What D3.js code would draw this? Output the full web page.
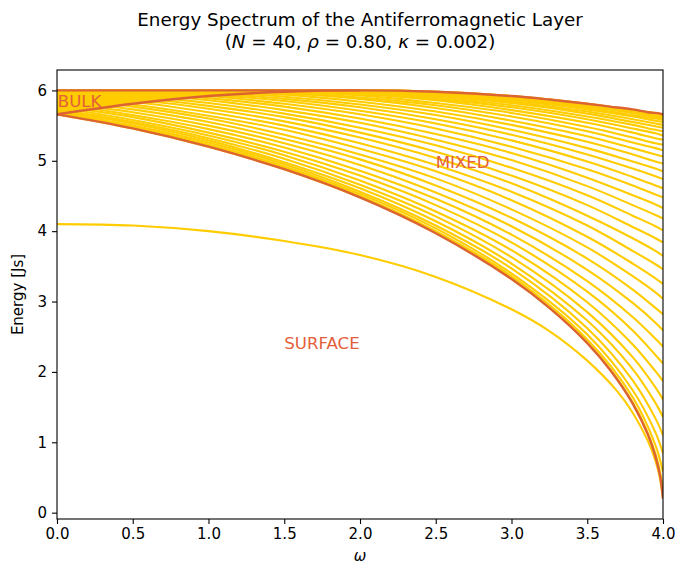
<!DOCTYPE html>
<html>
<head>
<meta charset="utf-8">
<script src="https://cdn.jsdelivr.net/npm/d3@7"></script>
<style>
  body { margin: 0; background: #ffffff; }
  text { font-family: "DejaVu Sans", sans-serif; }
</style>
</head>
<body>
<svg id="chart" width="677" height="566"></svg>
<script>
// ω sampling shared by the 39 bulk layer modes
const omegaGrid = [0, 0.5, 1, 1.5, 2, 2.5, 3, 3.5, 3.8, 3.95, 4];

// Energy of each bulk mode at the ω values above (units of Js)
const bulkModes = [
  [5.66,5.46,5.20,4.88,4.48,3.98,3.33,2.42,1.57,0.84,0.34],
  [5.67,5.47,5.21,4.90,4.50,4.00,3.36,2.46,1.64,0.96,0.58],
  [5.68,5.48,5.23,4.92,4.53,4.04,3.40,2.53,1.74,1.14,0.84],
  [5.69,5.50,5.26,4.95,4.56,4.08,3.47,2.62,1.88,1.34,1.10],
  [5.71,5.53,5.29,4.98,4.61,4.14,3.54,2.73,2.04,1.56,1.36],
  [5.73,5.55,5.32,5.03,4.66,4.21,3.63,2.85,2.21,1.78,1.61],
  [5.76,5.58,5.36,5.08,4.72,4.28,3.73,2.99,2.39,2.01,1.87],
  [5.78,5.62,5.40,5.13,4.79,4.37,3.84,3.14,2.59,2.24,2.12],
  [5.81,5.65,5.45,5.19,4.86,4.46,3.95,3.29,2.78,2.47,2.36],
  [5.83,5.69,5.50,5.25,4.94,4.55,4.07,3.45,2.98,2.70,2.59],
  [5.86,5.73,5.55,5.31,5.02,4.65,4.19,3.61,3.17,2.91,2.82],
  [5.89,5.77,5.60,5.37,5.09,4.75,4.31,3.77,3.36,3.13,3.04],
  [5.91,5.80,5.64,5.44,5.17,4.85,4.44,3.92,3.54,3.33,3.25],
  [5.93,5.84,5.69,5.50,5.25,4.94,4.56,4.08,3.72,3.53,3.46],
  [5.95,5.87,5.74,5.56,5.33,5.04,4.68,4.22,3.90,3.72,3.65],
  [5.97,5.90,5.78,5.62,5.40,5.13,4.79,4.37,4.06,3.90,3.84],
  [5.99,5.93,5.82,5.67,5.47,5.22,4.90,4.51,4.22,4.07,4.01],
  [6.00,5.95,5.86,5.72,5.54,5.30,5.01,4.64,4.37,4.23,4.18],
  [6.00,5.97,5.89,5.77,5.60,5.38,5.11,4.76,4.51,4.38,4.33],
  [6.00,5.98,5.92,5.81,5.66,5.46,5.20,4.88,4.65,4.52,4.48],
  [6.00,5.99,5.94,5.85,5.71,5.53,5.29,4.99,4.77,4.65,4.61],
  [6.00,6.00,5.96,5.88,5.76,5.59,5.37,5.09,4.89,4.78,4.74],
  [5.99,6.00,5.98,5.91,5.80,5.65,5.44,5.18,4.99,4.89,4.85],
  [5.97,6.00,5.99,5.94,5.84,5.70,5.51,5.27,5.09,4.99,4.96],
  [5.95,6.00,6.00,5.96,5.88,5.75,5.57,5.35,5.18,5.09,5.06],
  [5.93,5.99,6.00,5.97,5.90,5.79,5.63,5.42,5.26,5.18,5.15],
  [5.91,5.98,6.00,5.99,5.93,5.82,5.68,5.48,5.33,5.25,5.23],
  [5.89,5.97,6.00,5.99,5.95,5.86,5.72,5.54,5.40,5.32,5.30],
  [5.86,5.95,6.00,6.00,5.96,5.88,5.76,5.59,5.46,5.39,5.36],
  [5.83,5.93,5.99,6.00,5.97,5.90,5.79,5.63,5.51,5.44,5.42],
  [5.81,5.92,5.98,6.00,5.98,5.92,5.82,5.67,5.55,5.49,5.47],
  [5.78,5.90,5.97,6.00,5.99,5.94,5.84,5.70,5.59,5.53,5.51],
  [5.76,5.88,5.96,6.00,6.00,5.95,5.86,5.73,5.63,5.57,5.55],
  [5.73,5.86,5.95,6.00,6.00,5.96,5.88,5.75,5.65,5.60,5.58],
  [5.71,5.85,5.94,5.99,6.00,5.97,5.89,5.77,5.68,5.62,5.60],
  [5.69,5.84,5.94,5.99,6.00,5.97,5.90,5.79,5.70,5.64,5.62],
  [5.68,5.83,5.93,5.99,6.00,5.98,5.91,5.80,5.71,5.66,5.64],
  [5.67,5.82,5.92,5.98,6.00,5.98,5.92,5.81,5.72,5.67,5.65],
  [5.66,5.81,5.92,5.98,6.00,5.98,5.92,5.81,5.72,5.68,5.66]
];

// Surface-localised mode
const surfaceOmega  = [0, 0.5, 1, 1.5, 2, 2.5, 3, 3.25, 3.5, 3.7, 3.8, 3.9, 3.95, 3.98, 4];
const surfaceEnergy = [4.10, 4.08, 4.00, 3.86, 3.66, 3.35, 2.89, 2.58, 2.16, 1.72, 1.42, 1.02, 0.74, 0.49, 0.20];

// Edges of the bulk continuum
const edgeOmega = [0, 0.5, 1, 1.5, 2, 2.5, 3, 3.25, 3.5, 3.65, 3.8, 3.9, 3.95, 3.98, 4];
const lowerEdge = [5.66, 5.46, 5.20, 4.88, 4.48, 3.97, 3.32, 2.91, 2.41, 2.03, 1.55, 1.11, 0.80, 0.53, 0.20];
const upperEdge = [5.66, 5.81, 5.92, 5.98, 6.00, 5.98, 5.92, 5.87, 5.81, 5.77, 5.73, 5.69, 5.68, 5.67, 5.66];
const flatEdgeOmega = [0, 2];
const flatEdge = [6.00, 6.00];

// Region annotations (text, ω, energy)
const regionNames  = ["BULK", "MIXED", "SURFACE"];
const regionOmega  = [0.005, 2.5, 1.5];
const regionEnergy = [5.76, 4.9, 2.33];

const xTicks = [0, 0.5, 1, 1.5, 2, 2.5, 3, 3.5, 4];
const yTicks = [0, 1, 2, 3, 4, 5, 6];

const titleLine1 = "Energy Spectrum of the Antiferromagnetic Layer";

// ---------------------------------------------------------------
const plot = { left: 57, right: 663, top: 70, bottom: 519 };
const colors = { mode: "#ffcc00", edge: "#dc6432", label: "#e3603a", axis: "#000000" };

const svg = d3.select("#chart");

// y limits padded by 5% of the data span
const allE = bulkModes.flat().concat(surfaceEnergy, lowerEdge, upperEdge, flatEdge);
const eMin = d3.min(allE), eMax = d3.max(allE), span = eMax - eMin;

const x = d3.scaleLinear().domain([0, 4]).range([plot.left, plot.right]);
const y = d3.scaleLinear().domain([eMin - 0.05 * span, eMax + 0.05 * span]).range([plot.bottom, plot.top]);

svg.append("defs").append("clipPath").attr("id", "plotClip")
  .append("rect")
  .attr("x", plot.left).attr("y", plot.top)
  .attr("width", plot.right - plot.left).attr("height", plot.bottom - plot.top);

const line = d3.line()
  .x(d => x(d[0]))
  .y(d => y(d[1]))
  .curve(d3.curveCatmullRom.alpha(0.5));

const pairs = (xs, ys) => xs.map((v, i) => [v, ys[i]]);

const g = svg.append("g").attr("clip-path", "url(#plotClip)");

// bulk modes
g.selectAll("path.mode")
  .data(bulkModes)
  .join("path")
  .attr("class", "mode")
  .attr("d", d => line(pairs(omegaGrid, d)))
  .attr("fill", "none")
  .attr("stroke", colors.mode)
  .attr("stroke-width", 2.1)
  .attr("stroke-linejoin", "round");

// surface mode
g.append("path")
  .attr("d", line(pairs(surfaceOmega, surfaceEnergy)))
  .attr("fill", "none")
  .attr("stroke", colors.mode)
  .attr("stroke-width", 2.1);

// continuum edges
[[flatEdgeOmega, flatEdge], [edgeOmega, upperEdge], [edgeOmega, lowerEdge]].forEach(([xs, ys]) => {
  g.append("path")
    .attr("d", line(pairs(xs, ys)))
    .attr("fill", "none")
    .attr("stroke", colors.edge)
    .attr("stroke-width", 2.4);
});

// region labels
svg.selectAll("text.region")
  .data(regionNames)
  .join("text")
  .attr("class", "region")
  .attr("x", (d, i) => x(regionOmega[i]))
  .attr("y", (d, i) => y(regionEnergy[i]))
  .attr("fill", colors.label)
  .attr("font-size", "16.6px")
  .text(d => d);

// axes
const xAxis = d3.axisBottom(x).tickValues(xTicks).tickFormat(d3.format(".1f"))
  .tickSize(5).tickPadding(4);
const yAxis = d3.axisLeft(y).tickValues(yTicks).tickFormat(d3.format("d"))
  .tickSize(5).tickPadding(5);

const gx = svg.append("g").attr("transform", `translate(0,${plot.bottom})`).call(xAxis);
const gy = svg.append("g").attr("transform", `translate(${plot.left},0)`).call(yAxis);
[gx, gy].forEach(a => {
  a.select(".domain").remove();
  a.selectAll(".tick line").attr("stroke", colors.axis).attr("stroke-width", 1.1);
  a.selectAll(".tick text").attr("fill", "#000").attr("font-size", "15px")
    .attr("font-family", "DejaVu Sans, sans-serif");
});

// frame
svg.append("rect")
  .attr("x", plot.left).attr("y", plot.top)
  .attr("width", plot.right - plot.left).attr("height", plot.bottom - plot.top)
  .attr("fill", "none").attr("stroke", colors.axis).attr("stroke-width", 1.1);

// axis titles
svg.append("text")
  .attr("x", (plot.left + plot.right) / 2).attr("y", 561)
  .attr("text-anchor", "middle").attr("font-size", "15px").attr("font-style", "italic")
  .text("ω");

svg.append("text")
  .attr("transform", `translate(23,${(plot.top + plot.bottom) / 2}) rotate(-90)`)
  .attr("text-anchor", "middle").attr("font-size", "15px")
  .text("Energy [Js]");

// title
const cx = (plot.left + plot.right) / 2;
svg.append("text")
  .attr("x", cx).attr("y", 26)
  .attr("text-anchor", "middle").attr("font-size", "18.3px")
  .text(titleLine1);

const t2 = svg.append("text")
  .attr("x", cx).attr("y", 48)
  .attr("text-anchor", "middle").attr("font-size", "18.3px");
[["(", false], ["N", true], [" = 40, ", false], ["ρ", true], [" = 0.80, ", false],
 ["κ", true], [" = 0.002)", false]].forEach(([s, it]) => {
  t2.append("tspan").attr("font-style", it ? "italic" : "normal").text(s);
});
</script>
</body>
</html>
